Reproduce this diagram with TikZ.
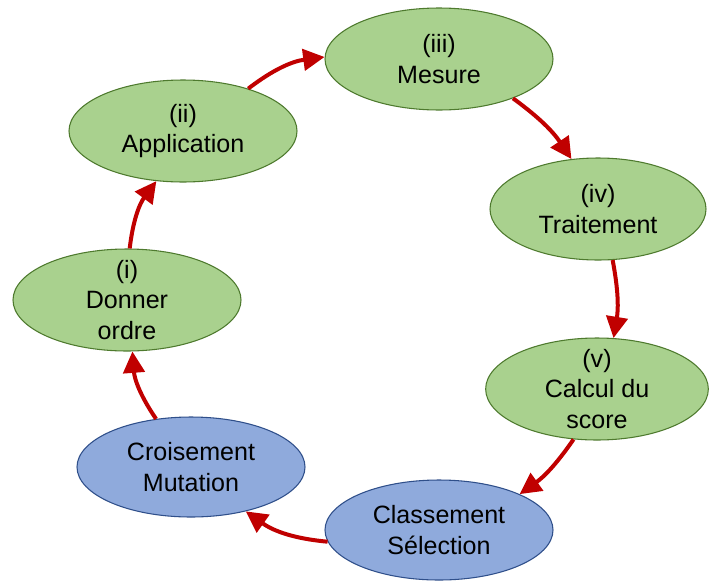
\documentclass[tikz,border=0pt]{standalone}
\usepackage{fontspec}
\setmainfont{Liberation Sans}
\usetikzlibrary{shapes.geometric,arrows.meta}
\definecolor{gfill}{HTML}{A9D18E}
\definecolor{gdraw}{HTML}{4E7A2E}
\definecolor{bfill}{HTML}{8FAADC}
\definecolor{bdraw}{HTML}{2F4F8A}
\definecolor{arr}{HTML}{C00000}
\tikzset{
  ellg/.style={ellipse, draw=gdraw, fill=gfill, line width=0.8pt, inner sep=0pt, minimum width=171pt, minimum height=76.5pt},
  ellb/.style={ellipse, draw=bdraw, fill=bfill, line width=0.8pt, inner sep=0pt, minimum width=171pt, minimum height=75pt},
  txt/.style={align=center, inner sep=0pt, font=\fontsize{18.8}{23.2}\selectfont},
  flow/.style={draw=arr, line width=3pt, -{Triangle[length=16pt,width=16pt]}, bend left=15}
}
\begin{document}
\begin{tikzpicture}[x=0.75pt,y=-0.75pt]
\useasboundingbox (0,0) rectangle (709,582);
\node[ellg] (mes) at (439,59) {};
\node[ellg] (app) at (183,131) {};
\node[ellg, minimum width=162pt] (tra) at (598,209) {};
\node[ellg] (don) at (127,300) {};
\node[ellg, minimum width=167pt] (cal) at (597,389) {};
\node[ellb] (cro) at (191,467) {};
\node[ellb] (cla) at (439,530) {};
\node[txt] (tmes) at (mes) {(iii)\\Mesure};
\node[txt] (tapp) at (app) {(ii)\\Application};
\node[txt] (ttra) at (tra) {(iv)\\Traitement};
\node[txt] (tdon) at (don) {(i)\\Donner\\ordre};
\node[txt] (tcal) at (cal) {(v)\\Calcul du\\score};
\node[txt] (tcro) at (cro) {Croisement\\Mutation};
\node[txt] (tcla) at (cla) {Classement\\Sélection};
\draw[flow] (app.33) to (mes.179);
\draw[flow, bend left=10] (mes.-28) to (tra.118);
\draw[flow, bend left=10] (tra.-74) to (cal.72);
\draw[flow, bend left=10] (cal.-115) to (cla.24);
\draw[flow] (cla.186) to (cro.-39);
\draw[flow] (cro.126) to (don.-84);
\draw[flow] (don.87) to (app.-118);
\end{tikzpicture}
\end{document}
